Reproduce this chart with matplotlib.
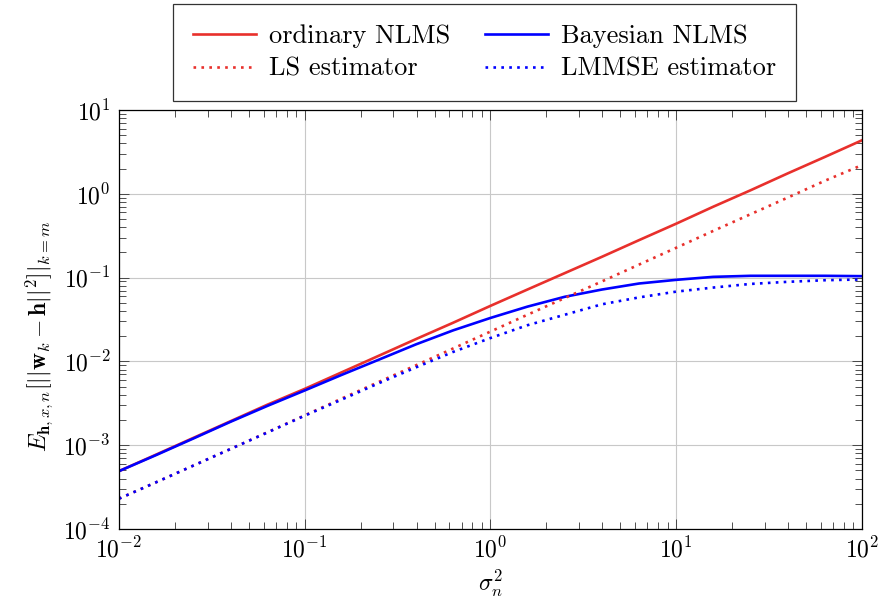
import matplotlib
matplotlib.use("Agg")
import matplotlib.pyplot as plt
from matplotlib.ticker import LogLocator, NullFormatter

plt.rcParams['mathtext.fontset'] = 'cm'
plt.rcParams['font.family'] = ['cmr10', 'DejaVu Serif']
plt.rcParams['axes.formatter.use_mathtext'] = True

sigma2 = [0.01, 0.0158, 0.0251, 0.0398, 0.0631, 0.1, 0.158, 0.251, 0.398, 0.631,
          1.0, 1.58, 2.51, 3.98, 6.31, 10.0, 15.8, 25.1, 39.8, 63.1, 100.0]
ordinary_nlms = [4.9e-4, 7.7e-4, 1.22e-3, 1.93e-3, 3.05e-3, 4.7e-3, 7.4e-3, 1.17e-2, 1.85e-2, 2.9e-2,
                 4.6e-2, 7.2e-2, 0.113, 0.177, 0.28, 0.44, 0.70, 1.1, 1.75, 2.75, 4.35]
ls_estimator = [2.3e-4, 3.6e-4, 5.7e-4, 9.0e-4, 1.43e-3, 2.27e-3, 3.6e-3, 5.7e-3, 9.0e-3, 1.43e-2,
                2.27e-2, 3.6e-2, 5.7e-2, 9.0e-2, 0.143, 0.227, 0.36, 0.57, 0.9, 1.43, 2.2]
bayesian_nlms = [4.9e-4, 7.6e-4, 1.2e-3, 1.9e-3, 2.95e-3, 4.5e-3, 6.9e-3, 1.05e-2, 1.6e-2, 2.35e-2,
                 3.3e-2, 4.5e-2, 5.9e-2, 7.2e-2, 8.5e-2, 9.4e-2, 0.102, 0.105, 0.105, 0.105, 0.104]
lmmse_estimator = [2.3e-4, 3.6e-4, 5.7e-4, 9.0e-4, 1.42e-3, 2.25e-3, 3.5e-3, 5.5e-3, 8.5e-3, 1.3e-2,
                   1.9e-2, 2.7e-2, 3.6e-2, 4.8e-2, 5.8e-2, 6.8e-2, 7.6e-2, 8.4e-2, 8.9e-2, 9.3e-2, 9.5e-2]

red = '#e8302c'
blue = '#0000ff'

fig = plt.figure(figsize=(8.82, 6.10), dpi=100)
ax = fig.add_axes([0.1349, 0.1328, 0.9773 - 0.1349, 0.8197 - 0.1328])

lw = 1.9
l1, = ax.plot(sigma2, ordinary_nlms, color=red, lw=lw, label='ordinary NLMS')
l2, = ax.plot(sigma2, bayesian_nlms, color=blue, lw=lw, label='Bayesian NLMS')
l3, = ax.plot(sigma2, ls_estimator, color=red, lw=lw, ls=(0, (1, 2.0)), label='LS estimator')
l4, = ax.plot(sigma2, lmmse_estimator, color=blue, lw=lw, ls=(0, (1, 2.0)), label='LMMSE estimator')

ax.set_xscale('log')
ax.set_yscale('log')
ax.set_xlim(1e-2, 1e2)
ax.set_ylim(1e-4, 1e1)
ax.xaxis.set_major_locator(LogLocator(base=10, numticks=10))
ax.yaxis.set_major_locator(LogLocator(base=10, numticks=10))
ax.xaxis.set_minor_locator(LogLocator(base=10, subs=range(2, 10), numticks=20))
ax.yaxis.set_minor_locator(LogLocator(base=10, subs=range(2, 10), numticks=20))
ax.xaxis.set_minor_formatter(NullFormatter())
ax.yaxis.set_minor_formatter(NullFormatter())

ax.grid(True, which='major', color='#c8c8c8', lw=0.8)
ax.tick_params(which='both', direction='in', top=True, right=True, labelsize=17, pad=6)
ax.tick_params(which='major', length=7, width=0.6, color='#333333')
ax.tick_params(which='minor', length=5, width=0.6, color='#333333')
for s in ax.spines.values():
    s.set_linewidth(0.9)

ax.set_xlabel(r'$\sigma_n^2$', fontsize=17, labelpad=4)
ax.set_ylabel(r'$E_{\mathbf{h},x,n}[||\mathbf{w}_k-\mathbf{h}||^2]|_{k=m}$', fontsize=17)
ax.yaxis.set_label_coords(-0.086, 0.46)

leg = fig.legend(handles=[l1, l3, l2, l4], ncol=2, loc='center',
                 bbox_to_anchor=(0.5493, 0.9139), fontsize=19, frameon=True, fancybox=False,
                 edgecolor='black', handlelength=2.4, columnspacing=1.3, borderpad=0.75,
                 labelspacing=0.35, handletextpad=0.5)
leg.get_frame().set_linewidth(0.9)

fig.savefig('out.png', dpi=100)
